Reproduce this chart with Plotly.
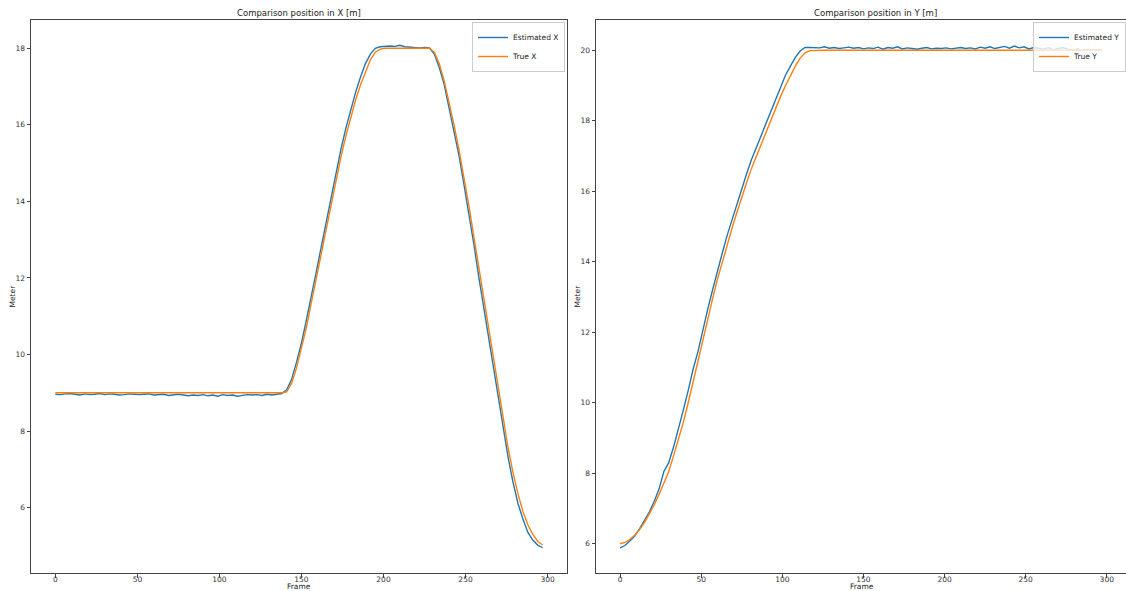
import plotly.graph_objects as go

# ---------------- data ----------------
frames = list(range(0, 298, 3))

est_x = [
    8.96, 8.95, 8.97, 8.98, 8.96, 8.94, 8.97, 8.95, 8.96, 8.98,
    8.95, 8.97, 8.96, 8.94, 8.95, 8.97, 8.96, 8.95, 8.96, 8.97,
    8.94, 8.95, 8.96, 8.93, 8.95, 8.96, 8.94, 8.92, 8.94, 8.93,
    8.95, 8.92, 8.94, 8.91, 8.95, 8.93, 8.94, 8.91, 8.93, 8.95,
    8.94, 8.95, 8.93, 8.96, 8.94, 8.96, 8.98,
    9.08, 9.35, 9.8, 10.3, 10.9, 11.5, 12.15, 12.8, 13.45, 14.1,
    14.75, 15.35, 15.9, 16.4, 16.85, 17.25, 17.6, 17.85, 18.0, 18.04,
    18.05,
    18.06, 18.05, 18.08, 18.04, 18.03, 18.02, 18.01, 18.02, 18.01,
    17.85, 17.5, 17.05, 16.45, 15.85, 15.2, 14.45, 13.7, 12.9, 12.05,
    11.25, 10.45, 9.65, 8.85, 8.05, 7.3, 6.65, 6.1, 5.7, 5.35,
    5.15, 5.02, 4.95,
]

true_x = [
    9.0, 9.0, 9.0, 9.0, 9.0, 9.0, 9.0, 9.0, 9.0, 9.0,
    9.0, 9.0, 9.0, 9.0, 9.0, 9.0, 9.0, 9.0, 9.0, 9.0,
    9.0, 9.0, 9.0, 9.0, 9.0, 9.0, 9.0, 9.0, 9.0, 9.0,
    9.0, 9.0, 9.0, 9.0, 9.0, 9.0, 9.0, 9.0, 9.0, 9.0,
    9.0, 9.0, 9.0, 9.0, 9.0, 9.0, 9.0,
    9.02, 9.25, 9.65, 10.15, 10.7, 11.35, 12.0, 12.6, 13.25, 13.9,
    14.55, 15.15, 15.7, 16.2, 16.65, 17.05, 17.4, 17.7, 17.9, 17.98,
    18.0,
    18.0, 18.0, 18.0, 18.0, 18.0, 18.0, 18.0, 18.0, 18.0,
    17.9, 17.6, 17.15, 16.6, 16.0, 15.35, 14.65, 13.9, 13.1, 12.3,
    11.5, 10.7, 9.9, 9.1, 8.3, 7.55, 6.9, 6.35, 5.9, 5.55,
    5.3, 5.12, 5.02,
]

est_y = [
    5.88, 5.95, 6.08, 6.22, 6.42, 6.65, 6.9, 7.2, 7.55, 8.05,
    8.3, 8.75, 9.25, 9.8, 10.35, 10.95, 11.45, 12.1, 12.65, 13.2,
    13.75, 14.25, 14.75, 15.2, 15.65, 16.1, 16.5, 16.9, 17.25, 17.6,
    17.95, 18.3, 18.65, 18.95, 19.3, 19.55, 19.8, 19.98, 20.08, 20.08,
    20.08, 20.07, 20.1, 20.06, 20.08, 20.05, 20.07, 20.09, 20.06, 20.08,
    20.04, 20.07, 20.05, 20.09, 20.03, 20.08, 20.06, 20.1, 20.04, 20.07,
    20.05, 20.03, 20.06, 20.08, 20.04, 20.06, 20.05, 20.07, 20.04, 20.06,
    20.08, 20.05, 20.07, 20.04, 20.09, 20.06, 20.1, 20.05, 20.08, 20.11,
    20.06, 20.12, 20.07, 20.1, 20.04, 20.08, 20.06, 20.03, 20.07, 20.02,
    20.05, 20.08, 20.03, 20.01, 20.04, 20.0, 20.03, 20.01, 20.02, 20.0,
]

true_y = [
    6.0, 6.04, 6.12, 6.24, 6.4, 6.6, 6.85, 7.1, 7.4, 7.7,
    8.05, 8.5, 8.95, 9.45, 10.0, 10.6, 11.2, 11.8, 12.4, 12.95,
    13.5, 14.0, 14.5, 14.95, 15.4, 15.85, 16.25, 16.65, 17.0, 17.35,
    17.7, 18.0, 18.35, 18.7, 19.0, 19.3, 19.55, 19.78, 19.93, 19.99,
    20.0, 20.0, 20.0, 20.0, 20.0, 20.0, 20.0, 20.0, 20.0, 20.0,
    20.0, 20.0, 20.0, 20.0, 20.0, 20.0, 20.0, 20.0, 20.0, 20.0,
    20.0, 20.0, 20.0, 20.0, 20.0, 20.0, 20.0, 20.0, 20.0, 20.0,
    20.0, 20.0, 20.0, 20.0, 20.0, 20.0, 20.0, 20.0, 20.0, 20.0,
    20.0, 20.0, 20.0, 20.0, 20.0, 20.0, 20.0, 20.0, 20.0, 20.0,
    20.0, 20.0, 20.0, 20.0, 20.0, 20.0, 20.0, 20.0, 20.0, 20.0,
]

x_ticks = [0, 50, 100, 150, 200, 250, 300]
left_yticks = [6, 8, 10, 12, 14, 16, 18]
right_yticks = [6, 8, 10, 12, 14, 16, 18, 20]

BLUE = "#1f77b4"
ORANGE = "#ff7f0e"
FONT = "DejaVu Sans"
TICK_SIZE = 7.5
TITLE_SIZE = 8.5

W, H = 1126, 591

fig = go.Figure()
fig.add_trace(go.Scatter(x=frames, y=est_x, mode="lines", name="Estimated X",
                         line=dict(color=BLUE, width=1.4), xaxis="x", yaxis="y", legend="legend"))
fig.add_trace(go.Scatter(x=frames, y=true_x, mode="lines", name="True X",
                         line=dict(color=ORANGE, width=1.4), xaxis="x", yaxis="y", legend="legend"))
fig.add_trace(go.Scatter(x=frames, y=est_y, mode="lines", name="Estimated Y",
                         line=dict(color=BLUE, width=1.4), xaxis="x2", yaxis="y2", legend="legend2"))
fig.add_trace(go.Scatter(x=frames, y=true_y, mode="lines", name="True Y",
                         line=dict(color=ORANGE, width=1.4), xaxis="x2", yaxis="y2", legend="legend2"))

left_dom = [31 / W, 567 / W]
right_dom = [596 / W, 1.0]
ydom = [1 - 573 / H, 1 - 20 / H]

axis_common = dict(showline=True, mirror=True, linecolor="#444", linewidth=1,
                   ticks="outside", ticklen=3.5, tickcolor="#444", showgrid=False,
                   zeroline=False, automargin=False,
                   tickfont=dict(family=FONT, size=TICK_SIZE, color="#333"))

legend_common = dict(yanchor="top", xanchor="right",
                     bgcolor="rgba(255,255,255,0.8)", bordercolor="#ccc", borderwidth=1,
                     font=dict(family=FONT, size=TICK_SIZE, color="#222"), itemwidth=30,
                     tracegroupgap=0)

fig.update_layout(
    width=W, height=H,
    margin=dict(l=0, r=0, t=0, b=0, autoexpand=False),
    paper_bgcolor="white", plot_bgcolor="white",
    font=dict(family=FONT, size=TICK_SIZE, color="#222"),
    xaxis=dict(domain=left_dom, anchor="y", range=[-14.85, 311.85], tickvals=x_ticks,
               ticklabelstandoff=-5, **axis_common),
    yaxis=dict(domain=ydom, anchor="x", range=[4.29, 18.74], tickvals=left_yticks, **axis_common),
    xaxis2=dict(domain=right_dom, anchor="y2", range=[-14.85, 311.85], tickvals=x_ticks,
                ticklabelstandoff=-5, **axis_common),
    yaxis2=dict(domain=ydom, anchor="x2", range=[5.17, 20.86], tickvals=right_yticks, **axis_common),
    legend=dict(x=565 / W, y=1 - 22 / H, **legend_common),
    legend2=dict(x=1.0, y=1 - 22 / H, **legend_common),
    showlegend=True,
)

annots = [
    dict(text="Comparison position in X [m]", x=299 / W, y=1 - 13 / H, size=TITLE_SIZE),
    dict(text="Comparison position in Y [m]", x=875 / W, y=1 - 13 / H, size=TITLE_SIZE),
    dict(text="Frame", x=299 / W, y=1 - 586 / H, size=TICK_SIZE),
    dict(text="Frame", x=862 / W, y=1 - 586 / H, size=TICK_SIZE),
    dict(text="Meter", x=12 / W, y=(ydom[0] + ydom[1]) / 2, size=TICK_SIZE, angle=-90),
    dict(text="Meter", x=577 / W, y=(ydom[0] + ydom[1]) / 2, size=TICK_SIZE, angle=-90),
]
for a in annots:
    fig.add_annotation(xref="paper", yref="paper", showarrow=False,
                       xanchor="center", yanchor="middle",
                       font=dict(family=FONT, size=a["size"], color="#222"),
                       text=a["text"], x=a["x"], y=a["y"], textangle=a.get("angle", 0))

fig.write_html("out.html", config={"displayModeBar": False},
               post_script="document.body.style.margin='0';document.body.style.overflow='hidden';")
